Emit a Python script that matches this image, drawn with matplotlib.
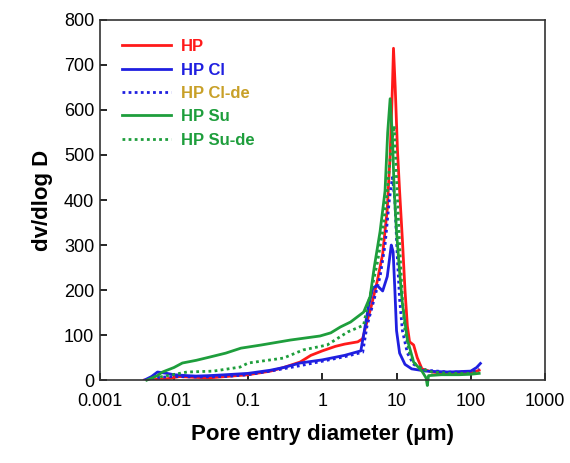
import matplotlib
matplotlib.use("Agg")
import matplotlib.pyplot as plt

plt.rcParams['font.family'] = ['Liberation Sans', 'DejaVu Sans']

# HP
hp_x = [0.004, 0.008, 0.012, 0.02, 0.03, 0.05, 0.1, 0.2, 0.3, 0.5, 0.7, 1.0, 1.5, 2.0, 3.0,
        3.5, 4.0, 4.5, 5.5, 6.5, 7.5, 8.2, 8.8, 9.1, 9.6, 10.3, 11, 12, 13, 14, 15, 17, 19,
        22, 30, 50, 100, 130]
hp_y = [0, 3, 8, 6, 5, 8, 12, 20, 28, 40, 55, 65, 75, 80, 85,
        92, 130, 160, 220, 280, 380, 500, 650, 737, 650, 510, 420, 311, 200, 120, 85, 78, 50,
        25, 18, 14, 15, 22]

# HP Cl
cl_x = [0.004, 0.005, 0.006, 0.008, 0.01, 0.015, 0.02, 0.03, 0.05, 0.1, 0.2, 0.3, 0.5, 1.0,
        2.0, 3.3, 3.6, 4.2, 4.8, 5.5, 6.5, 7.5, 8.5, 9.0, 9.5, 10, 11, 13, 16, 25, 50, 100,
        120, 135]
cl_y = [0, 8, 18, 15, 12, 10, 9, 10, 12, 15, 22, 28, 38, 45,
        55, 65, 100, 165, 205, 210, 198, 230, 300, 285, 200, 110, 60, 35, 25, 20, 18, 20,
        28, 37]

# HP Cl-de
clde_x = [0.005, 0.006, 0.01, 0.02, 0.05, 0.1, 0.2, 0.5, 1.0, 2.0, 3.5, 4.0, 5.0, 6.0, 7.0,
          8.0, 8.8, 9.5, 10.2, 11, 12, 14, 17, 25, 50, 100, 130]
clde_y = [0, 6, 8, 7, 8, 12, 20, 32, 42, 52, 62, 120, 180, 230, 300,
          400, 450, 400, 280, 180, 110, 60, 35, 22, 18, 18, 25]

# HP Su
su_x = [0.0043, 0.006, 0.007, 0.01, 0.013, 0.02, 0.03, 0.05, 0.08, 0.15, 0.37, 0.93, 1.3,
        1.75, 2.4, 3.6, 4.4, 5.0, 6.0, 7.0, 7.6, 8.2, 8.8, 9.3, 10, 11, 12, 14, 17, 22, 25,
        26, 27, 40, 70, 100, 130]
su_y = [0, 10, 18, 28, 38, 44, 51, 60, 71, 78, 89, 98, 105,
        118, 129, 151, 185, 250, 330, 420, 550, 625, 540, 420, 330, 240, 170, 90, 40, 20, 5,
        -12, 10, 12, 12, 13, 15]

# HP Su-de
sude_x = [0.0065, 0.015, 0.034, 0.078, 0.1, 0.3, 0.55, 1.16, 2.2, 3.6, 4.0, 4.6, 5.5, 6.5,
          7.5, 8.5, 9.3, 10, 11, 12, 13, 15, 18, 22, 30, 50, 100, 130]
sude_y = [7, 18, 20, 29, 38, 49, 67, 78, 107, 122, 160, 200, 260, 330,
          420, 520, 565, 450, 300, 180, 110, 60, 35, 25, 18, 15, 15, 17]

red = "#FF1A1A"
blue = "#1F1FE0"
green = "#1E9E3C"
gold = "#C8A028"

fig = plt.figure(figsize=(5.7, 4.63), dpi=100)
ax = fig.add_axes([0.175, 0.179, 0.781, 0.778])

ax.plot(hp_x, hp_y, color=red, lw=2, label="HP")
ax.plot(cl_x, cl_y, color=blue, lw=2, label="HP Cl")
ax.plot(clde_x, clde_y, color=blue, lw=2, ls=(0, (1, 1.2)), label="HP Cl-de")
ax.plot(su_x, su_y, color=green, lw=2, label="HP Su", clip_on=False)
ax.plot(sude_x, sude_y, color=green, lw=2, ls=(0, (1, 1.2)), label="HP Su-de")

ax.set_xscale("log")
ax.set_xlim(0.001, 1000)
ax.set_ylim(0, 800)
ax.set_xticks([0.001, 0.01, 0.1, 1, 10, 100, 1000])
ax.set_xticklabels(["0.001", "0.01", "0.1", "1", "10", "100", "1000"])
ax.minorticks_off()
ax.set_yticks(range(0, 801, 100))
ax.tick_params(direction="in", length=5, width=1.2, labelsize=13, pad=4)
ax.tick_params(axis="x", pad=9)
for s in ax.spines.values():
    s.set_linewidth(1.2)
    s.set_color("#333333")

ax.set_xlabel("Pore entry diameter (\u03bcm)", fontsize=16, fontweight="bold", labelpad=10)
ax.set_ylabel("dv/dlog D", fontsize=16, fontweight="bold", labelpad=8)

leg = ax.legend(loc="upper left", bbox_to_anchor=(0.036, 0.965), frameon=False,
                handlelength=2.9, handletextpad=0.6, borderaxespad=0,
                labelspacing=0.5, prop={"weight": "bold", "size": 12})
for t, c in zip(leg.get_texts(), [red, blue, gold, green, green]):
    t.set_color(c)

fig.savefig("out.png", dpi=100)
